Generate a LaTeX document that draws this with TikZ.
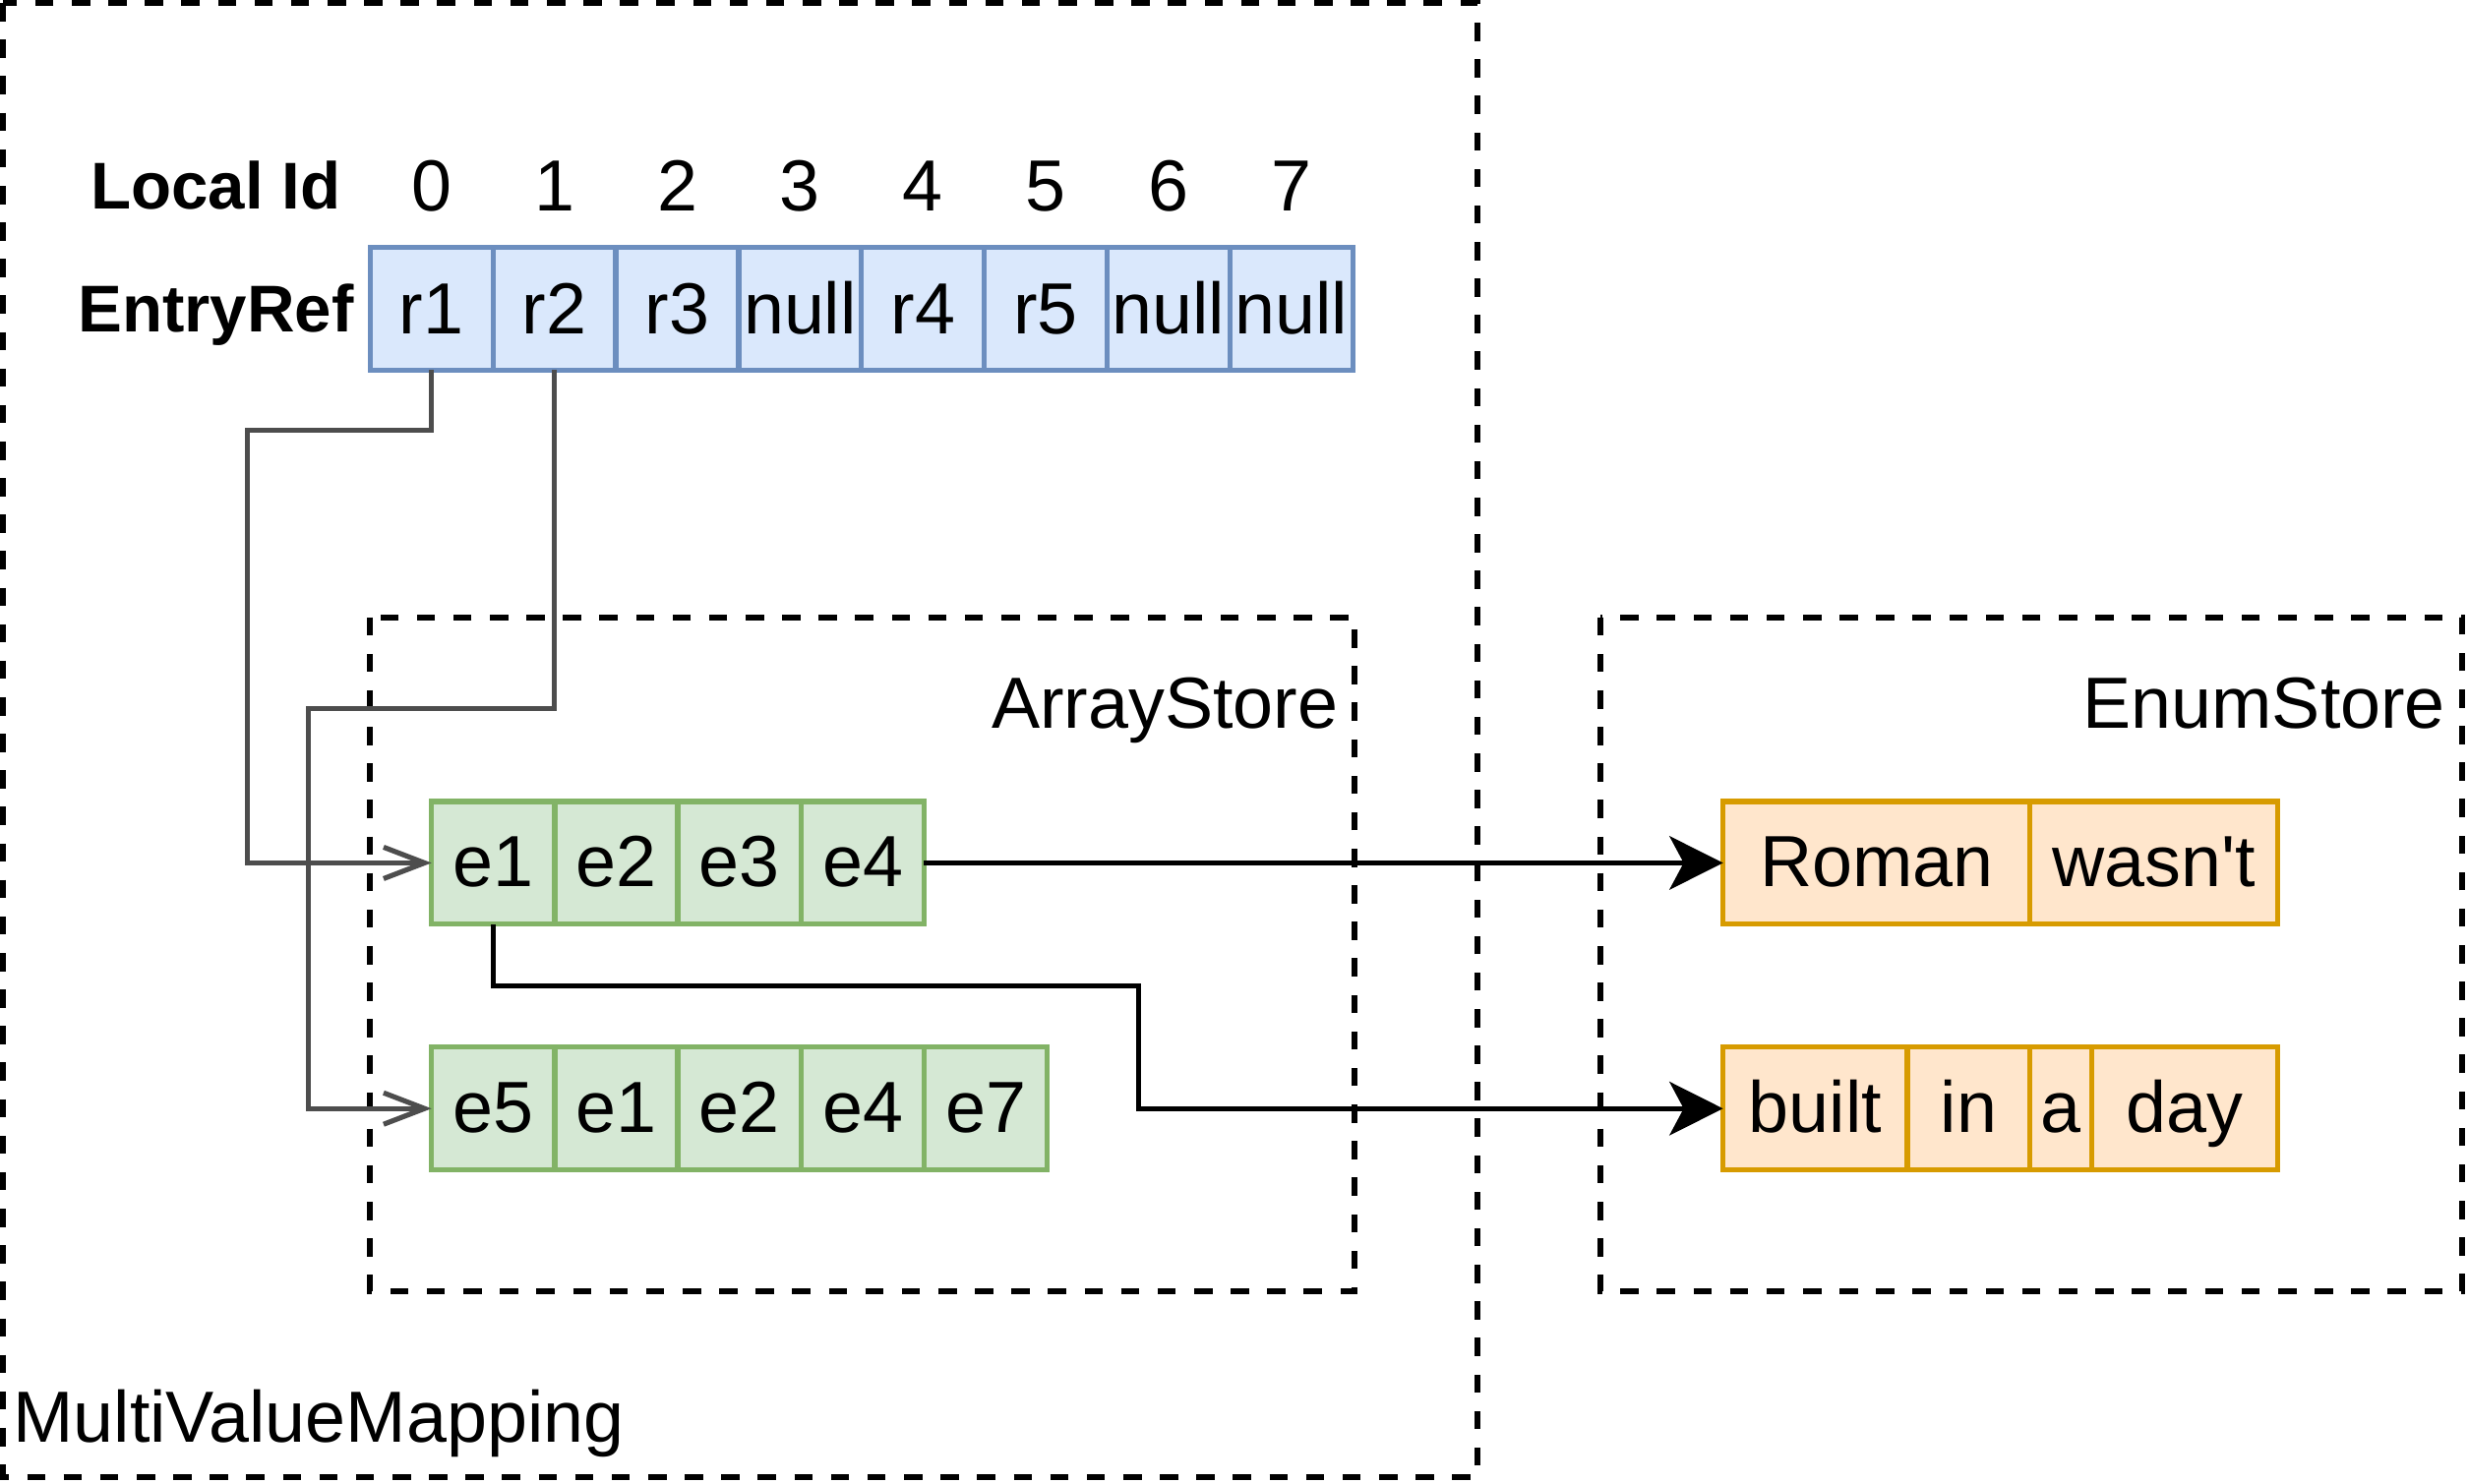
\documentclass[tikz,border=0pt]{standalone}
\usepackage{fontspec}
\setmainfont{Liberation Sans}[Ligatures=TeXOff]
\usetikzlibrary{arrows.meta,positioning}

\definecolor{reffill}{HTML}{DAE8FC}
\definecolor{refline}{HTML}{6C8EBF}
\definecolor{valfill}{HTML}{D5E8D4}
\definecolor{valline}{HTML}{82B366}
\definecolor{wordfill}{HTML}{FFE6CC}
\definecolor{wordline}{HTML}{D79B00}
\definecolor{linkgray}{HTML}{4D4D4D}

\begin{document}
\begin{tikzpicture}[x=0.5pt,y=-0.5pt,
    store/.style={draw, line width=1.8pt, dash pattern=on 5.8pt off 5.8pt},
    cell/.style={draw, line width=1.6pt, inner sep=0pt, outer sep=0pt,
      minimum height=39pt, text height=17pt, text depth=2pt,
      font=\fontsize{23}{28}\selectfont},
    refcell/.style={cell, draw=refline, fill=reffill, minimum width=39pt, text height=18pt},
    valcell/.style={cell, draw=valline, fill=valfill, minimum width=39pt},
    wordcell/.style={cell, draw=wordline, fill=wordfill},
    head/.style={inner sep=0pt, font=\fontsize{21}{25}\selectfont\bfseries},
    title/.style={inner sep=0pt, font=\fontsize{23}{28}\selectfont},
    reflink/.style={draw=linkgray, line width=1.6pt, -{Straight Barb[length=13pt,width=10pt]}},
    wordlink/.style={draw=black, line width=1.5pt, -{Stealth[length=17pt,width=17pt,inset=4.5pt]}}]
    \useasboundingbox (0,0) rectangle (1567,942.4);

    % Stores
    \draw[store] (2,2) rectangle (938,938);
    \draw[store] (235,392) rectangle (860,820);
    \draw[store] (1016,392) rectangle (1563,820);
    \node[title, anchor=base west] (mvmlbl) at (8,916) {MultiValueMapping};
    \node[title, anchor=base east] (arraylbl) at (850,462.5) {ArrayStore};
    \node[title, anchor=base east] (enumlbl) at (1553,462.5) {EnumStore};

    % Local ids and entry refs
    \node[head, anchor=base] (localid) at (137,133) {Local Id};
    \node[head, anchor=base] (entryref) at (137,210.5) {EntryRef};
    \foreach \t [count=\i from 0] in {r1,r2,r3,null,r4,r5,null,null} {
      \node[title, anchor=base] (id\i) at ({274+78*\i},134) {\i};
      \node[refcell] (ref\i) at ({274+78*\i},196) {\t};
    }

    % Arrays
    \foreach \t [count=\i from 0] in {e1,e2,e3,e4}
      \node[valcell] (a\i) at ({313+78.25*\i},548) {\t};
    \foreach \t [count=\i from 0] in {e5,e1,e2,e4,e7}
      \node[valcell] (b\i) at ({313+78.25*\i},704) {\t};

    % Enum words
    \node[wordcell, minimum width=97.5pt, anchor=west] (roman) at (1094,548) {Roman};
    \node[wordcell, minimum width=78.5pt, right=0pt of roman] (wasnt) {wasn't};
    \node[wordcell, minimum width=58.5pt, anchor=west] (built) at (1094,704) {built};
    \node[wordcell, minimum width=39pt, right=0pt of built] (in) {in};
    \node[wordcell, minimum width=19.5pt, right=0pt of in] (a) {a};
    \node[wordcell, minimum width=59pt, right=0pt of a] (day) {day};

    % Links
    \draw[reflink] (ref0.south) |- (157,273) |- (a0.west);
    \draw[reflink] (ref1.south) |- (196,450) |- (b0.west);
    \draw[wordlink] (a3.east) -- (roman.west);
    \draw[wordlink] (a0.south) |- (723,626) |- (built.west);

  \end{tikzpicture}
\end{document}
